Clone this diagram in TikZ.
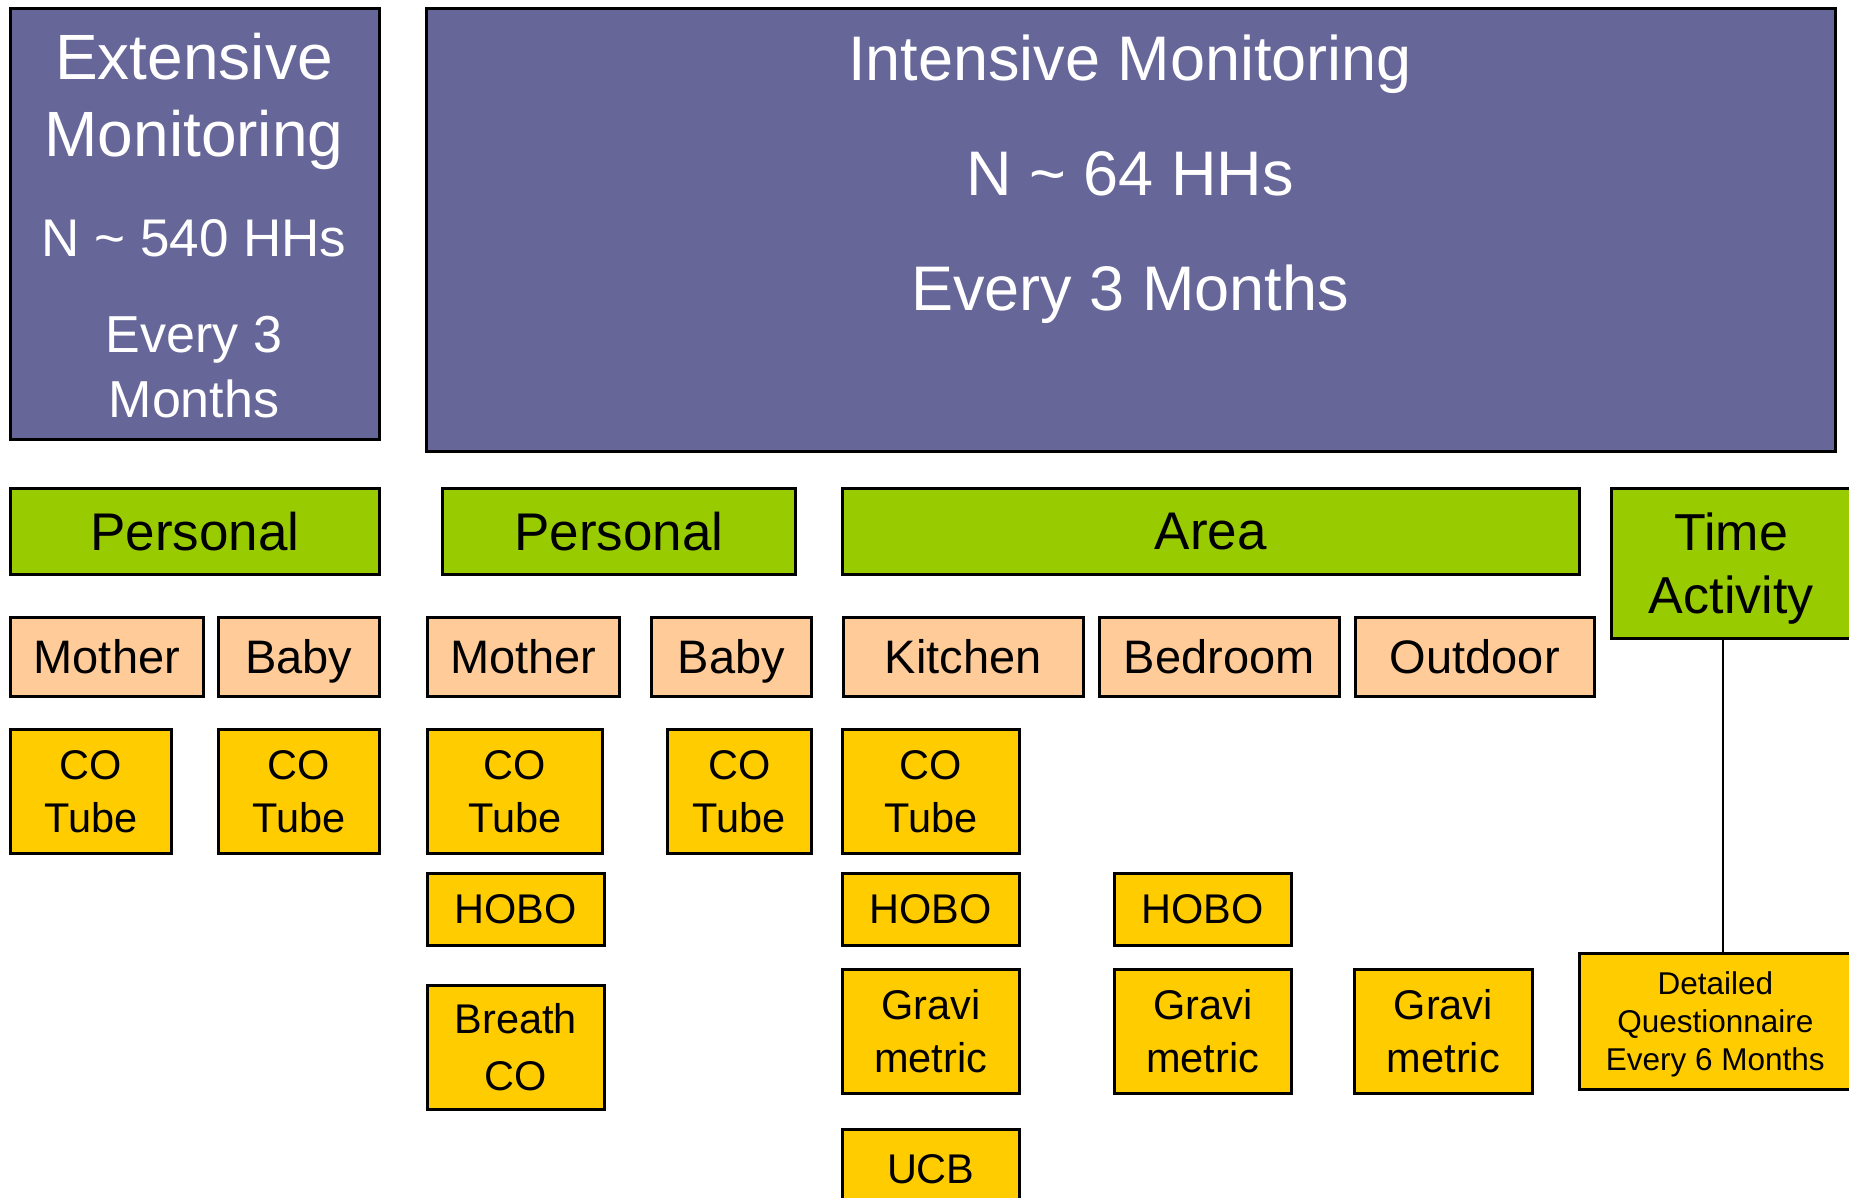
\documentclass[tikz,border=0pt]{standalone}
\usepackage{fontspec}
\setmainfont{Liberation Sans}
\usetikzlibrary{positioning}
\definecolor{headblue}{RGB}{102,102,153}
\definecolor{catgreen}{RGB}{153,204,0}
\definecolor{whopeach}{RGB}{255,204,153}
\definecolor{toolgold}{RGB}{255,204,0}

\tikzset{
  box/.style={draw=black, line width=2.6pt, inner sep=0pt, align=center,
    anchor=north west, text depth=0pt},
  wh/.style 2 args={minimum width=#1pt, minimum height=#2pt},
  headbox/.style={box, fill=headblue},
  headtext/.style={text=white, inner sep=0pt, anchor=base},
  catbox/.style={box, fill=catgreen, font=\fontsize{53}{64}\selectfont},
  whobox/.style={box, fill=whopeach, font=\fontsize{47}{56}\selectfont},
  toolbox/.style={box, fill=toolgold, font=\fontsize{41.5}{53}\selectfont},
  link/.style={draw=black, line width=2pt},
}

\begin{document}
\begin{tikzpicture}[x=1pt, y=-1pt]
  \useasboundingbox (0,0) rectangle (1849,1198);

  % the two monitoring arms
  \node[headbox, wh={369}{431}] (ext) at (9,7) {};
  \node[headbox, wh={1409}{443}] (int) at (425,7) {};
  \node[headtext, font=\fontsize{64}{76}\selectfont] (extA) at (194,80) {Extensive};
  \node[headtext, font=\fontsize{64}{76}\selectfont] (extB) at (194,157) {Monitoring};
  \node[headtext, font=\fontsize{53}{64}\selectfont] (extN) at (194,257) {N \textasciitilde{} 540 HHs};
  \node[headtext, font=\fontsize{52}{62}\selectfont] (extE) at (194,352) {Every 3};
  \node[headtext, font=\fontsize{52}{62}\selectfont] (extM) at (194,417) {Months};
  \node[headtext, font=\fontsize{63}{74}\selectfont] (intA) at (1130,81) {Intensive Monitoring};
  \node[headtext, font=\fontsize{63}{74}\selectfont] (intN) at (1130,196) {N \textasciitilde{} 64 HHs};
  \node[headtext, font=\fontsize{63}{74}\selectfont] (intE) at (1130,310) {Every 3 Months};

  % sampling categories
  \node[catbox, wh={369}{86}] (pers1) at (9,487) {Personal};
  \node[catbox, wh={353}{86}] (pers2) at (441,487) {Personal};
  \node[catbox, wh={737}{86}] (area) at (841,487) {Area};
  \node[catbox, wh={240}{150}, font=\fontsize{52}{63}\selectfont] (time) at (1610,487) {Time\\Activity};

  % who / where
  \node[whobox, wh={193}{79}] (mom1) at (9,616) {Mother};
  \node[whobox, wh={161}{79}] (baby1) at (217,616) {Baby};
  \node[whobox, wh={192}{79}] (mom2) at (426,616) {Mother};
  \node[whobox, wh={160}{79}] (baby2) at (650,616) {Baby};
  \node[whobox, wh={240}{79}] (kitchen) at (842,616) {Kitchen};
  \node[whobox, wh={240}{79}] (bedroom) at (1098,616) {Bedroom};
  \node[whobox, wh={239}{79}] (outdoor) at (1354,616) {Outdoor};

  % instruments
  \node[toolbox, wh={161}{124}] (cot1) at (9,728) {CO\\Tube};
  \node[toolbox, wh={161}{124}] (cot2) at (217,728) {CO\\Tube};
  \node[toolbox, wh={175}{124}] (cot3) at (426,728) {CO\\Tube};
  \node[toolbox, wh={144}{124}] (cot4) at (666,728) {CO\\Tube};
  \node[toolbox, wh={177}{124}] (cot5) at (841,728) {CO\\Tube};
  \node[toolbox, wh={177}{72}] (hobo1) at (426,872) {HOBO};
  \node[toolbox, wh={177}{72}] (hobo2) at (841,872) {HOBO};
  \node[toolbox, wh={177}{72}] (hobo3) at (1113,872) {HOBO};
  \node[toolbox, wh={177}{124}, font=\fontsize{41.5}{57}\selectfont] (breath) at (426,984) {Breath\\CO};
  \node[toolbox, wh={177}{124}] (grav1) at (841,968) {Gravi\\metric};
  \node[toolbox, wh={177}{124}] (grav2) at (1113,968) {Gravi\\metric};
  \node[toolbox, wh={178}{124}] (grav3) at (1353,968) {Gravi\\metric};
  \node[toolbox, wh={177}{80}] (ucb) at (841,1128) {UCB};
  \node[toolbox, wh={272}{136}, font=\fontsize{31.5}{38}\selectfont] (quest) at (1578,952)
    {Detailed\\Questionnaire\\Every 6 Months};

  \draw[link] ([xshift=-8pt]time.south) -- ([xshift=8pt]quest.north);
\end{tikzpicture}
\end{document}
